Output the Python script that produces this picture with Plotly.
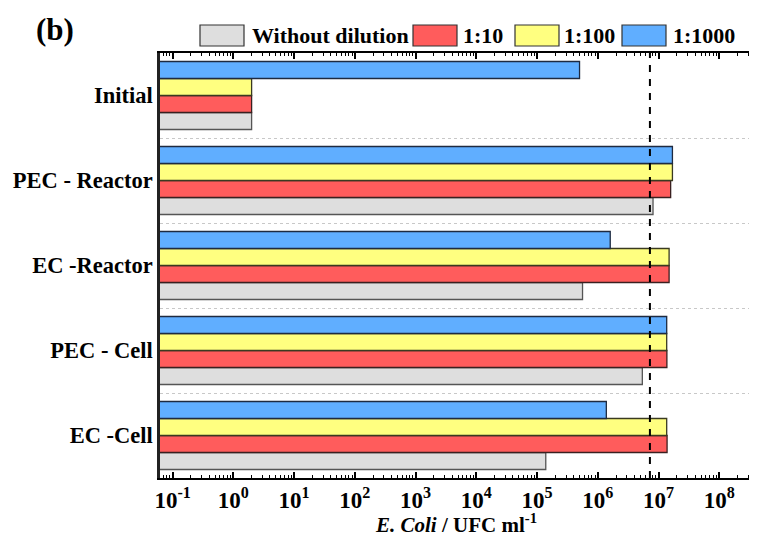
import plotly.graph_objects as go

categories = ["Initial", "PEC - Reactor", "EC -Reactor", "PEC - Cell", "EC -Cell"]
series_names = ["Without dilution", "1:10", "1:100", "1:1000"]
without_dilution = [2, 8.1e6, 5.6e5, 5.4e6, 1.39e5]
dil_10 = [2, 1.58e7, 1.49e7, 1.37e7, 1.38e7]
dil_100 = [2, 1.69e7, 1.49e7, 1.36e7, 1.36e7]
dil_1000 = [5.0e5, 1.69e7, 1.6e6, 1.36e7, 1.38e6]
limit_value = 7.2e6
tick_exps = [-1, 0, 1, 2, 3, 4, 5, 6, 7, 8]

colors = ["#DEDEDE", "#FF5C5C", "#FFFF80", "#60AEFF"]
edge = ["#555555", "#3a2020", "#3a3a20", "#1e2a40"]
FONT = "Liberation Serif, Times New Roman, serif"

fig = go.Figure()
for name, vals, c, e in zip(series_names, [without_dilution, dil_10, dil_100, dil_1000], colors, edge):
    fig.add_trace(go.Bar(y=categories, x=vals, orientation="h", name=name,
                         marker=dict(color=c, line=dict(color=e, width=1.3)),
                         showlegend=False))

tickvals = [10.0 ** k for k in tick_exps]
ticktext = ["<b>10<sup>%d</sup></b>" % k for k in tick_exps]
minor_vals = [m * 10.0 ** k for k in range(-2, 9) for m in range(2, 10)]

# page has an 8px body margin: figure is sized/offset to compensate
fig.update_layout(
    width=757, height=528,
    margin=dict(l=152, r=8, t=45, b=58, autoexpand=False),
    plot_bgcolor="white", paper_bgcolor="white",
    barmode="group", bargap=0.2, bargroupgap=0,
    font=dict(family=FONT, color="black"),
    xaxis=dict(type="log", range=[-1.207, 8.62], tickmode="array", tickvals=tickvals,
               ticktext=ticktext, ticks="inside", ticklen=6, tickwidth=1.5, tickcolor="black",
               showline=True, linecolor="black", linewidth=2, mirror="ticks",
               showgrid=False, zeroline=False, automargin=False,
               tickfont=dict(family=FONT, size=23, color="black"),
               minor=dict(tickmode="array", tickvals=minor_vals, ticks="inside", ticklen=3,
                          tickwidth=1, tickcolor="black", showgrid=False)),
    yaxis=dict(type="category", categoryorder="array", categoryarray=categories[::-1],
               range=[-0.5, 4.5], showline=True, linecolor="#222", linewidth=2.5,
               ticks="", tickson="boundaries", showgrid=True, gridcolor="#c8c8c8",
               griddash="dot", gridwidth=1, zeroline=False, automargin=False,
               tickfont=dict(family=FONT, size=22.5, color="black", weight="bold")),
)

# dashed reference line
fig.add_shape(type="line", xref="x", yref="paper", x0=limit_value, x1=limit_value, y0=0, y1=1,
              line=dict(color="black", width=2, dash="7px,7px"))

# custom legend and texts (positions in page pixels -> paper fraction)
pw, ph = 597.0, 425.0
def px_x(p): return (p - 160) / pw
def px_y(p): return (478 - p) / ph
box_left = [200, 413, 515, 622]
text_left = [250, 461, 562, 671]
for i, name in enumerate(series_names):
    fig.add_shape(type="rect", xref="paper", yref="paper",
                  x0=px_x(box_left[i]), x1=px_x(box_left[i] + 44), y0=px_y(46), y1=px_y(25),
                  fillcolor=colors[i], line=dict(color="#333", width=1.2))
    fig.add_annotation(xref="paper", yref="paper", x=px_x(text_left[i]), y=px_y(36),
                       xanchor="left", yanchor="middle", showarrow=False,
                       text="<b>%s</b>" % name, font=dict(family=FONT, size=22, color="black"))

fig.add_annotation(xref="paper", yref="paper", x=px_x(456), y=px_y(523), xanchor="center",
                   yanchor="middle", showarrow=False,
                   text="<b><i>E. Coli</i> / UFC ml<sup>-1</sup></b>",
                   font=dict(family=FONT, size=21, color="black"))

fig.add_annotation(xref="paper", yref="paper", x=px_x(55), y=px_y(30), xanchor="center",
                   yanchor="middle", showarrow=False, text="<b>(b)</b>",
                   font=dict(family=FONT, size=31, color="black"))

fig.write_html("out.html")
